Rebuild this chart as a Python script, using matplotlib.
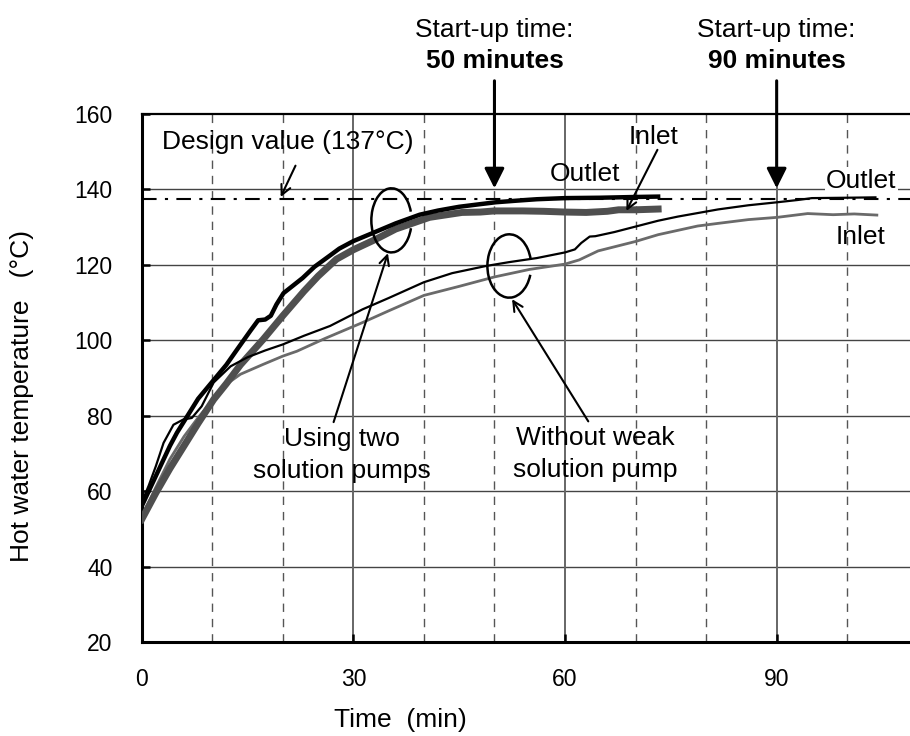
import matplotlib
matplotlib.use('Agg')
import matplotlib.pyplot as plt
from matplotlib.patches import Arc

plt.rcParams['font.family'] = ['Liberation Sans', 'DejaVu Sans']

# ── data ─────────────────────────────
# two solution pumps, outlet (thick black)
t_out2 = [0, 1, 2, 3, 4, 5, 6, 7, 8, 10, 12, 13.5, 15.4, 16.5, 17.5, 18.3, 19.1, 20.1,
          22.8, 24.5, 26.7, 28, 30, 33.2, 36, 39.4, 42, 45, 48, 50.2, 53, 56, 60, 65, 70, 73.2]
T_out2 = [56, 60, 64, 68, 72, 75.5, 78.5, 81.5, 84.5, 89, 93.5, 97.5, 102.5, 105.3, 105.5,
          106.5, 109.5, 112.5, 116.5, 119.5, 122.5, 124.3, 126.3, 128.8, 131, 133.3, 134.4,
          135.4, 136.1, 136.6, 137.0, 137.4, 137.7, 137.8, 138.0, 138.1]

# two solution pumps, inlet (thick grey)
t_in2 = [0, 1, 2, 4, 6, 8, 10.2, 12, 14, 17.2, 20, 23, 25, 27.6, 30, 33.2, 36, 40.8, 45.4,
         48, 50, 54, 57, 60, 63, 66, 67.6, 70, 73.2]
T_in2 = [52.5, 56, 59.5, 66, 72, 78, 84.3, 88.5, 93.5, 100.2, 106.5, 113, 117, 121.5, 124,
         126.8, 129.5, 132.6, 133.9, 134.0, 134.3, 134.3, 134.2, 134.0, 133.9, 134.2, 134.6,
         134.6, 134.8]

# without weak solution pump, outlet (thin black)
t_out1 = [0, 1, 2, 3.1, 4.5, 5.9, 7.1, 8.5, 10.2, 12.6, 15, 17.5, 20, 23, 26.7, 31.3, 35, 40,
          44, 48.8, 52, 56, 60, 61.4, 62.3, 63.5, 64.3, 67, 73.2, 76, 81.7, 86, 90.1, 93, 95,
          100, 104]
T_out1 = [57, 61.5, 66.6, 72.8, 77.6, 79, 79.4, 82.5, 88.8, 93.1, 95.5, 97.3, 98.9, 101.2,
          103.8, 108.2, 111.2, 115.4, 117.8, 119.7, 120.7, 121.8, 123.3, 124.1, 125.8, 127.5,
          127.6, 128.7, 131.7, 132.8, 134.7, 135.8, 136.6, 137.2, 137.7, 137.8, 137.9]

# without weak solution pump, inlet (thin grey)
t_in1 = [0, 2, 4, 6, 8, 10, 11.6, 14, 17.2, 20, 22, 26, 31.3, 35, 40, 45, 50, 55, 60, 62,
         64.7, 70, 73.2, 78.8, 81.7, 86, 90.1, 94.4, 98, 101, 104.2]
T_in1 = [53, 61, 68.5, 74.5, 79.5, 84, 87.8, 91, 93.6, 95.8, 97.1, 100.5, 104.7, 107.8,
         111.9, 114.3, 116.8, 118.8, 120.2, 121.3, 123.7, 126.2, 128.0, 130.3, 131.0, 132,
         132.6, 133.6, 133.3, 133.5, 133.2]

design_value = 137.5
startup_times = [50, 90]
x_ticks = [0, 30, 60, 90]
y_ticks = [20, 40, 60, 80, 100, 120, 140, 160]
solid_vgrid = [30, 60, 90]
dashed_vgrid = [10, 20, 40, 50, 70, 80, 100]

fig = plt.figure(figsize=(9.1, 7.36), dpi=100)
ax = fig.add_axes([141.7 / 910, 94 / 736, (910 - 141.7) / 910, 528 / 736])

# grid
for y in y_ticks[1:-1]:
    ax.axhline(y, color='#444444', lw=1.0, zorder=1)
for x in solid_vgrid:
    ax.axvline(x, color='#666666', lw=1.4, zorder=1)
for x in dashed_vgrid:
    ax.axvline(x, color='#555555', lw=1.0, ls=(0, (6, 5)), zorder=1)

# design value line
ax.axhline(design_value, color='black', lw=1.5, ls=(0, (7, 4, 1.5, 4)), zorder=2)

# curves
ax.plot(t_in1, T_in1, color='#6a6a6a', lw=2.0, zorder=3)
ax.plot(t_out1, T_out1, color='black', lw=1.6, zorder=4)
ax.plot(t_in2, T_in2, color='#4f4f4f', lw=5.0, zorder=3)
ax.plot(t_out2, T_out2, color='black', lw=3.2, zorder=5)

# "C" marks
ax.add_patch(Arc((35.4, 131.8), 5.7, 17.0, theta1=40, theta2=323, color='black', lw=1.8, zorder=6))
ax.add_patch(Arc((52.1, 119.7), 6.2, 16.8, theta1=30, theta2=322, color='black', lw=1.8, zorder=6))

thin = dict(arrowstyle='->,head_length=0.5,head_width=0.25', color='black', lw=1.5,
            shrinkA=0, shrinkB=0, mutation_scale=14)
ax.annotate('', xy=(19.7, 138), xytext=(21.8, 146.3), arrowprops=thin, zorder=7)
ax.annotate('', xy=(34.9, 123.1), xytext=(27.2, 78.3), arrowprops=thin, zorder=7)
ax.annotate('', xy=(52.5, 110.9), xytext=(63.3, 78.5), arrowprops=thin, zorder=7)
ax.annotate('', xy=(68.7, 134.3), xytext=(73.1, 150.5), arrowprops=thin, zorder=7)

fs = 19
ax.text(20.7, 152.5, 'Design value (137°C)', fontsize=fs, ha='center', va='center')
ax.text(28.4, 73.7, 'Using two', fontsize=fs, ha='center', va='center')
ax.text(28.4, 65.4, 'solution pumps', fontsize=fs, ha='center', va='center')
ax.text(64.3, 74.2, 'Without weak', fontsize=fs, ha='center', va='center')
ax.text(64.3, 65.7, 'solution pump', fontsize=fs, ha='center', va='center')
ax.text(72.6, 154, 'Inlet', fontsize=fs, ha='center', va='center')
ax.text(62.8, 144.1, 'Outlet', fontsize=fs, ha='center', va='center')
ax.text(102, 142.3, 'Outlet', fontsize=fs, ha='center', va='center', zorder=8,
        bbox=dict(facecolor='white', edgecolor='none', pad=1))
ax.text(101.9, 127.5, 'Inlet', fontsize=fs, ha='center', va='center')

# start-up arrows and labels above the axes
big = dict(arrowstyle='-|>,head_length=0.6,head_width=0.3', color='black', lw=2.2,
           shrinkA=0, shrinkB=0, mutation_scale=20)
for st in startup_times:
    ax.annotate('', xy=(st, 140.3), xytext=(st, 168.8), arrowprops=big,
                annotation_clip=False, zorder=9)
    ax.text(st, 182.2, 'Start-up time:', fontsize=fs, ha='center', va='center', clip_on=False)
    ax.text(st, 174.0, f'{st} minutes', fontsize=fs, fontweight='bold', ha='center',
            va='center', clip_on=False)

ax.set_xlim(0, 108.9)
ax.set_ylim(20, 160)
ax.set_xticks(x_ticks)
ax.set_yticks(y_ticks)
ax.tick_params(axis='both', direction='in', length=6, width=1.8, labelsize=16.5, colors='black')
ax.tick_params(axis='y', pad=21)
ax.tick_params(axis='x', pad=19)

ax.spines['right'].set_visible(False)
ax.spines['left'].set_linewidth(2.2)
ax.spines['bottom'].set_linewidth(2.2)
ax.spines['top'].set_linewidth(1.6)

fig.text(400 / 910, 1 - 720 / 736, 'Time  (min)', fontsize=fs, ha='center', va='center')
fig.text(22 / 910, 1 - 396 / 736, 'Hot water temperature   (°C)', fontsize=fs,
         ha='center', va='center', rotation=90)

fig.savefig('out.png', dpi=100)
